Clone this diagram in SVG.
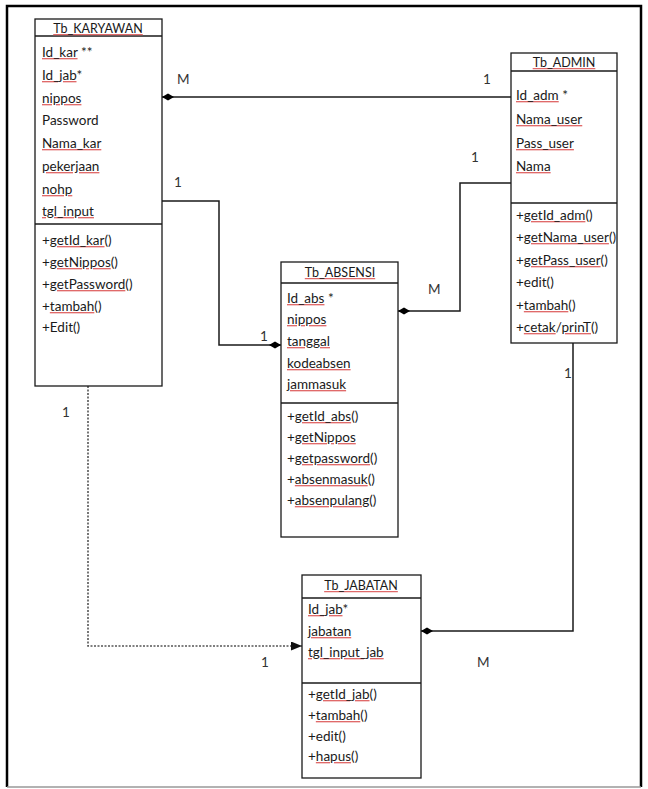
<svg xmlns="http://www.w3.org/2000/svg" width="648" height="789" viewBox="0 0 648 789">
<style>
text{font-family:Lato,"Liberation Sans",Arial,sans-serif;font-size:13.5px;fill:#1a1a1a}
.t{font-size:12.5px;text-anchor:middle}
.u{text-decoration:underline;fill:#e06a6a}
.u tspan{fill:#1a1a1a}
.box{fill:#fff;stroke:#1a1a1a;stroke-width:1.3}
.div{stroke:#1a1a1a;stroke-width:1.3}
.c{fill:none;stroke:#1a1a1a;stroke-width:1.5}
.d{fill:none;stroke:#555;stroke-width:1.6;stroke-dasharray:2,1.5}
.lbl{fill:#333}
</style>
<defs>
<marker id="dia" markerUnits="userSpaceOnUse" markerWidth="12" markerHeight="8" refX="0" refY="4" orient="auto" viewBox="0 0 12 8">
<path d="M0,4 L6,0.5 L12,4 L6,7.5 z" fill="#000"/>
</marker>
<marker id="arr" markerUnits="userSpaceOnUse" markerWidth="11" markerHeight="9" refX="11" refY="4.5" orient="auto" viewBox="0 0 11 9">
<path d="M0,0 L11,4.5 L0,9 z" fill="#111"/>
</marker>
</defs>
<rect width="648" height="789" fill="#fff"/>
<path d="M7,787 V6 H641 V787" fill="none" stroke="#000" stroke-width="2.5"/>
<line x1="7" y1="787" x2="641" y2="787" stroke="#999" stroke-width="1.5"/>

<g id="connectors">
<path class="c" d="M162,97 H511" marker-start="url(#dia)"/>
<path class="c" d="M281,345 H219 V201 H162" marker-start="url(#dia)"/>
<path class="c" d="M398,311 H460 V183 H511" marker-start="url(#dia)"/>
<path class="c" d="M421,631 H573 V343" marker-start="url(#dia)"/>
<path class="d" d="M88,386 V646 H302" marker-end="url(#arr)"/>
<text class="lbl" x="177" y="84">M</text>
<text class="lbl" x="483" y="84">1</text>
<text class="lbl" x="174" y="187">1</text>
<text class="lbl" x="260" y="341">1</text>
<text class="lbl" x="471" y="162">1</text>
<text class="lbl" x="428" y="294">M</text>
<text class="lbl" x="564" y="378">1</text>
<text class="lbl" x="477" y="667">M</text>
<text class="lbl" x="62" y="417">1</text>
<text class="lbl" x="261" y="667">1</text>
</g>

<g id="Tb_KARYAWAN">
<rect class="box" x="35" y="19" width="127" height="367"/>
<line class="div" x1="35" y1="36" x2="162" y2="36"/>
<line class="div" x1="35" y1="224" x2="162" y2="224"/>
<text class="t" x="98" y="33"><tspan class="u"><tspan>Tb_KARYAWAN</tspan></tspan></text>
<text x="42" y="57"><tspan class="u"><tspan>Id_kar</tspan></tspan> **</text>
<text x="42" y="80"><tspan class="u"><tspan>Id_jab</tspan></tspan>*</text>
<text x="42" y="103"><tspan class="u"><tspan>nippos</tspan></tspan></text>
<text x="42" y="125">Password</text>
<text x="42" y="148"><tspan class="u"><tspan>Nama_kar</tspan></tspan></text>
<text x="42" y="171"><tspan class="u"><tspan>pekerjaan</tspan></tspan></text>
<text x="42" y="194"><tspan class="u"><tspan>nohp</tspan></tspan></text>
<text x="42" y="216"><tspan class="u"><tspan>tgl_input</tspan></tspan></text>
<text x="42" y="245">+<tspan class="u"><tspan>getId_kar</tspan></tspan>()</text>
<text x="42" y="267">+<tspan class="u"><tspan>getNippos</tspan></tspan>()</text>
<text x="42" y="289">+<tspan class="u"><tspan>getPassword</tspan></tspan>()</text>
<text x="42" y="311">+<tspan class="u"><tspan>tambah</tspan></tspan>()</text>
<text x="42" y="332">+Edit()</text>
</g>

<g id="Tb_ADMIN">
<rect class="box" x="511" y="53" width="106" height="290"/>
<line class="div" x1="511" y1="71" x2="617" y2="71"/>
<line class="div" x1="511" y1="203" x2="617" y2="203"/>
<text class="t" x="564" y="67"><tspan class="u"><tspan>Tb_ADMIN</tspan></tspan></text>
<text x="516" y="100"><tspan class="u"><tspan>Id_adm</tspan></tspan> *</text>
<text x="516" y="124"><tspan class="u"><tspan>Nama_user</tspan></tspan></text>
<text x="516" y="148"><tspan class="u"><tspan>Pass_user</tspan></tspan></text>
<text x="516" y="171"><tspan class="u"><tspan>Nama</tspan></tspan></text>
<text x="516" y="220">+<tspan class="u"><tspan>getId_adm</tspan></tspan>()</text>
<text x="516" y="242">+<tspan class="u"><tspan>getNama_user</tspan></tspan>()</text>
<text x="516" y="265">+<tspan class="u"><tspan>getPass_user</tspan></tspan>()</text>
<text x="516" y="287">+edit()</text>
<text x="516" y="310">+<tspan class="u"><tspan>tambah</tspan></tspan>()</text>
<text x="516" y="332">+<tspan class="u"><tspan>cetak</tspan></tspan>/<tspan class="u"><tspan>prinT</tspan></tspan>()</text>
</g>

<g id="Tb_ABSENSI">
<rect class="box" x="281" y="262" width="117" height="275"/>
<line class="div" x1="281" y1="283" x2="398" y2="283"/>
<line class="div" x1="281" y1="403" x2="398" y2="403"/>
<text class="t" x="340" y="277"><tspan class="u"><tspan>Tb_ABSENSI</tspan></tspan></text>
<text x="287" y="303"><tspan class="u"><tspan>Id_abs</tspan></tspan> *</text>
<text x="287" y="324"><tspan class="u"><tspan>nippos</tspan></tspan></text>
<text x="287" y="346"><tspan class="u"><tspan>tanggal</tspan></tspan></text>
<text x="287" y="368"><tspan class="u"><tspan>kodeabsen</tspan></tspan></text>
<text x="287" y="389"><tspan class="u"><tspan>jammasuk</tspan></tspan></text>
<text x="287" y="421">+<tspan class="u"><tspan>getId_abs</tspan></tspan>()</text>
<text x="287" y="442">+<tspan class="u"><tspan>getNippos</tspan></tspan></text>
<text x="287" y="463">+<tspan class="u"><tspan>getpassword</tspan></tspan>()</text>
<text x="287" y="484">+<tspan class="u"><tspan>absenmasuk</tspan></tspan>()</text>
<text x="287" y="505">+<tspan class="u"><tspan>absenpulang</tspan></tspan>()</text>
</g>

<g id="Tb_JABATAN">
<rect class="box" x="302" y="575" width="119" height="203"/>
<line class="div" x1="302" y1="598" x2="421" y2="598"/>
<line class="div" x1="302" y1="683" x2="421" y2="683"/>
<text class="t" x="361" y="590"><tspan class="u"><tspan>Tb_JABATAN</tspan></tspan></text>
<text x="308" y="614"><tspan class="u"><tspan>Id_jab</tspan></tspan>*</text>
<text x="308" y="636"><tspan class="u"><tspan>jabatan</tspan></tspan></text>
<text x="308" y="657"><tspan class="u"><tspan>tgl_input_jab</tspan></tspan></text>
<text x="308" y="699">+<tspan class="u"><tspan>getId_jab</tspan></tspan>()</text>
<text x="308" y="720">+<tspan class="u"><tspan>tambah</tspan></tspan>()</text>
<text x="308" y="741">+edit()</text>
<text x="308" y="761">+<tspan class="u"><tspan>hapus</tspan></tspan>()</text>
</g>
</svg>
